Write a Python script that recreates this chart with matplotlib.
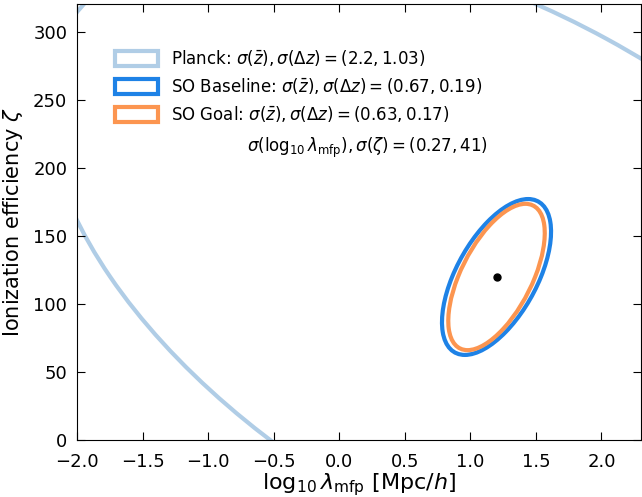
import numpy as np
import matplotlib
matplotlib.use('Agg')
import matplotlib.pyplot as plt
from matplotlib.patches import Ellipse

plt.rcParams['font.family'] = ['DejaVu Sans']
plt.rcParams['mathtext.fontset'] = 'dejavusans'

# fiducial point (log10 lambda_mfp, zeta)
center = (1.2, 120.0)

# contour half-extents (x, y) and correlation
labels = [r'Planck: $\sigma(\bar{z}), \sigma(\Delta z) = (2.2, 1.03)$',
          r'SO Baseline: $\sigma(\bar{z}), \sigma(\Delta z) = (0.67, 0.19)$',
          r'SO Goal: $\sigma(\bar{z}), \sigma(\Delta z) = (0.63, 0.17)$']
half_x = [3.43, 0.416, 0.368]
half_y = [247.0, 57.2, 53.7]
rho = [-0.512, 0.58, 0.60]
colors = ['#b0cde6', '#1e82e6', '#fc9550']

extra_text = r'$\sigma(\log_{10}\lambda_{\rm mfp}), \sigma(\zeta) = (0.27, 41)$'


def cov_ellipse(cx, cy, sx, sy, r, **kw):
    cov = np.array([[sx**2, r*sx*sy], [r*sx*sy, sy**2]])
    vals, vecs = np.linalg.eigh(cov)
    order = vals.argsort()[::-1]
    vals, vecs = vals[order], vecs[:, order]
    angle = np.degrees(np.arctan2(vecs[1, 0], vecs[0, 0]))
    return Ellipse((cx, cy), 2*np.sqrt(vals[0]), 2*np.sqrt(vals[1]), angle=angle, **kw)


fig = plt.figure(figsize=(6.42, 4.97), dpi=100)
ax = fig.add_axes([0.12, 0.1137, 0.878, 0.8773])

handles = []
for lab, sx, sy, r, c in zip(labels, half_x, half_y, rho, colors):
    e = cov_ellipse(center[0], center[1], sx, sy, r, fill=False, edgecolor=c, lw=3, label=lab)
    ax.add_patch(e)
    handles.append(e)

ax.plot(center[0], center[1], 'o', color='k', ms=5)

ax.set_xlim(-2.0, 2.3)
ax.set_ylim(0, 320)
ax.set_xticks(np.arange(-2.0, 2.01, 0.5))
ax.set_yticks(np.arange(0, 301, 50))
ax.tick_params(direction='in', top=True, right=True, length=6, labelsize=13)
ax.tick_params(axis='x', pad=9)
ax.tick_params(axis='y', pad=7)

ax.set_xlabel(r'$\log_{10}\lambda_{\rm mfp}$ [Mpc/$h$]', fontsize=16, labelpad=0)
ax.set_ylabel(r'Ionization efficiency $\zeta$', fontsize=15, labelpad=6)

ax.legend(handles=handles, loc='upper left', bbox_to_anchor=(0.04, 0.935), frameon=False,
          fontsize=12, handlelength=2.6, handleheight=1.0, labelspacing=0.5, handletextpad=0.8)
ax.text(0.301, 0.671, extra_text, transform=ax.transAxes, fontsize=12, va='center', ha='left')

plt.savefig('out.png', dpi=100)
